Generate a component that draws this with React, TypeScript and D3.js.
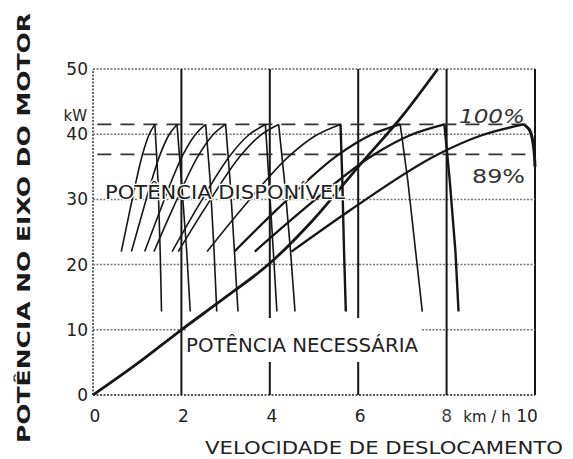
import React from 'react';
import * as d3 from 'd3';

const W = 573;
const H = 459;

// axis + grid values
const xTickValues = [0, 2, 4, 6];
const xTickLabels = ['0', '2', '4', '6'];
const yTickValues = [0, 10, 20, 30, 40, 50];
const yTickLabels = ['0', '10', '20', '30', '40', '50'];
const gridY = [10, 20, 30, 40];
const gridX = [2, 4, 6, 8];
const level100 = 41.5;
const level89 = 36.9;

// required power (potência necessária)
const necSpeed = [0, 1, 2, 3, 4, 5, 6, 7, 7.8];
const necPower = [0, 4.8, 10, 15, 20.2, 27, 35, 42.8, 50];

// available power per gear: rising branch
const riseLevels = [22, 28.5, 36.9, 39.8, 41.5];
const gearRiseSpeeds = [
  [0.64, 0.84, 1.12, 1.26, 1.4],
  [0.87, 1.14, 1.52, 1.71, 1.9],
  [1.17, 1.53, 2.04, 2.3, 2.55],
  [1.38, 1.8, 2.4, 2.7, 3.0],
  [1.79, 2.34, 3.12, 3.51, 3.9],
  [1.93, 2.52, 3.36, 3.78, 4.2],
  [2.58, 3.36, 4.48, 5.04, 5.6],
  [3.2, 4.17, 5.56, 6.26, 6.95],
  [3.66, 4.77, 6.36, 7.16, 7.95],
  [4.49, 5.85, 7.8, 8.78, 9.75],
];

// governor drop branch per gear
const dropLevels = [41.5, 33, 22, 12.8];
const gearDropSpeeds = [
  [1.4, 1.47, 1.52, 1.55],
  [1.9, 2.0, 2.12, 2.2],
  [2.55, 2.65, 2.74, 2.8],
  [3.0, 3.1, 3.2, 3.28],
  [3.9, 3.98, 4.08, 4.16],
  [4.2, 4.33, 4.47, 4.57],
  [5.6, 5.64, 5.68, 5.72],
  [6.95, 7.12, 7.3, 7.45],
  [7.95, 8.07, 8.2, 8.27],
];
const topDropSpeeds = [9.75, 9.88, 9.96, 10.0];
const topDropLevels = [41.5, 40.6, 38.4, 35];

const x = d3.scaleLinear().domain([0, 10]).range([93, 535]);
const y = d3.scaleLinear().domain([0, 50]).range([395, 69]);

const line = d3
  .line<[number, number]>()
  .x((d) => x(d[0]))
  .y((d) => y(d[1]));
const smooth = d3
  .line<[number, number]>()
  .x((d) => x(d[0]))
  .y((d) => y(d[1]))
  .curve(d3.curveMonotoneX);
const smoothY = d3
  .line<[number, number]>()
  .x((d) => x(d[0]))
  .y((d) => y(d[1]))
  .curve(d3.curveMonotoneY);

const font = '"DejaVu Sans", "Liberation Sans", sans-serif';
const ink = '#161616';

export default function App() {
  const necPts = necSpeed.map((s, i) => [s, necPower[i]] as [number, number]);
  return (
    <svg
      width={W}
      height={H}
      style={{ position: 'absolute', left: 0, top: 0, background: '#fff' }}
    >
      <rect x={0} y={0} width={W} height={H} fill="#fff" />
      {/* frame */}
      <line x1={x(0)} x2={x(10)} y1={y(50)} y2={y(50)} stroke="#666" strokeWidth={1.6} strokeDasharray="2,1.5" />
      <line x1={x(0)} x2={x(10)} y1={y(0)} y2={y(0)} stroke="#555" strokeWidth={1.8} strokeDasharray="2,1.5" />
      <line x1={x(0)} x2={x(0)} y1={y(0)} y2={y(50)} stroke="#555" strokeWidth={1.8} strokeDasharray="2,1.5" />
      <line x1={x(10)} x2={x(10)} y1={y(0)} y2={y(50)} stroke={ink} strokeWidth={2} />
      {/* horizontal grid */}
      {gridY.map((g) => (
        <line key={'gy' + g} x1={x(0)} x2={x(10)} y1={y(g)} y2={y(g)} stroke="#777" strokeWidth={1.5} strokeDasharray="2,1.5" />
      ))}
      {/* vertical grid */}
      {gridX.map((g) => (
        <line key={'gx' + g} x1={x(g)} x2={x(g)} y1={y(0)} y2={y(50)} stroke={ink} strokeWidth={2} />
      ))}
      {/* dashed power levels */}
      {[level100, level89].map((l) => (
        <line key={'lv' + l} x1={x(0.1)} x2={x(10)} y1={y(l)} y2={y(l)} stroke="#333" strokeWidth={1.6} strokeDasharray="14,9" />
      ))}
      {/* blank area behind lower label */}
      <rect x={187} y={318} width={234} height={44} fill="#fff" />
      {/* gear rising curves */}
      {gearRiseSpeeds.map((sp, i) => (
        <path
          key={'r' + i}
          d={smooth(sp.map((s, j) => [s, riseLevels[j]] as [number, number])) || ''}
          fill="none"
          stroke={ink}
          strokeWidth={i >= 7 ? 2.3 : 1.6}
        />
      ))}
      {/* gear drop curves */}
      {gearDropSpeeds.map((sp, i) => (
        <path
          key={'d' + i}
          d={line(sp.map((s, j) => [s, dropLevels[j]] as [number, number])) || ''}
          fill="none"
          stroke={ink}
          strokeWidth={i === 6 || i === 8 ? 2.4 : 1.6}
        />
      ))}
      <path
        d={smoothY(topDropSpeeds.map((s, j) => [s, topDropLevels[j]] as [number, number])) || ''}
        fill="none"
        stroke={ink}
        strokeWidth={3}
      />
      {/* required power */}
      <path d={smooth(necPts) || ''} fill="none" stroke={ink} strokeWidth={2.8} />

      {/* y tick labels */}
      {yTickValues.map((v, i) => (
        <text key={'yt' + v} x={88} y={y(v) + 6} textAnchor="end" fontFamily={font} fontSize={17} fill="#222">
          {yTickLabels[i]}
        </text>
      ))}
      <text x={87} y={121} textAnchor="end" fontFamily={font} fontSize={15} fill="#222">kW</text>
      {/* x tick labels */}
      {xTickValues.map((v, i) => (
        <text key={'xt' + v} x={x(v) + 2} y={422} textAnchor="middle" fontFamily={font} fontSize={17} fill="#222">
          {xTickLabels[i]}
        </text>
      ))}
      <text x={x(8)} y={422} textAnchor="middle" fontFamily={font} fontSize={17} fill="#444">8</text>
      <text x={487} y={422} textAnchor="middle" fontFamily={font} fontSize={15} fill="#222">km / h</text>
      <text x={527} y={422} textAnchor="middle" fontFamily={font} fontSize={17} fill="#222">10</text>

      {/* axis titles */}
      <text
        x={205}
        y={454}
        fontFamily={font}
        fontSize={17}
        fill="#222"
        textLength={358}
        lengthAdjust="spacingAndGlyphs"
      >
        VELOCIDADE DE DESLOCAMENTO
      </text>
      <text
        transform="translate(30,443) rotate(-90)"
        fontFamily={font}
        fontSize={18}
        fontWeight="bold"
        fill="#1a1a1a"
        textLength={430}
        lengthAdjust="spacingAndGlyphs"
      >
        POTÊNCIA NO EIXO DO MOTOR
      </text>

      {/* annotations */}
      <text x={459} y={123} fontFamily={font} fontSize={20} fontStyle="italic" fill="#333" textLength={66} lengthAdjust="spacingAndGlyphs">
        100%
      </text>
      <text x={472} y={183} fontFamily={font} fontSize={20} fill="#333" textLength={53} lengthAdjust="spacingAndGlyphs">
        89%
      </text>
      <text
        x={105}
        y={199}
        fontFamily={font}
        fontSize={19}
        fill="#222"
        stroke="#fff"
        strokeWidth={2.5}
        paintOrder="stroke"
        textLength={240}
        lengthAdjust="spacingAndGlyphs"
      >
        POTÊNCIA DISPONÍVEL
      </text>
      <text
        x={186}
        y={352}
        fontFamily={font}
        fontSize={19}
        fill="#222"
        textLength={232}
        lengthAdjust="spacingAndGlyphs"
      >
        POTÊNCIA NECESSÁRIA
      </text>
    </svg>
  );
}
